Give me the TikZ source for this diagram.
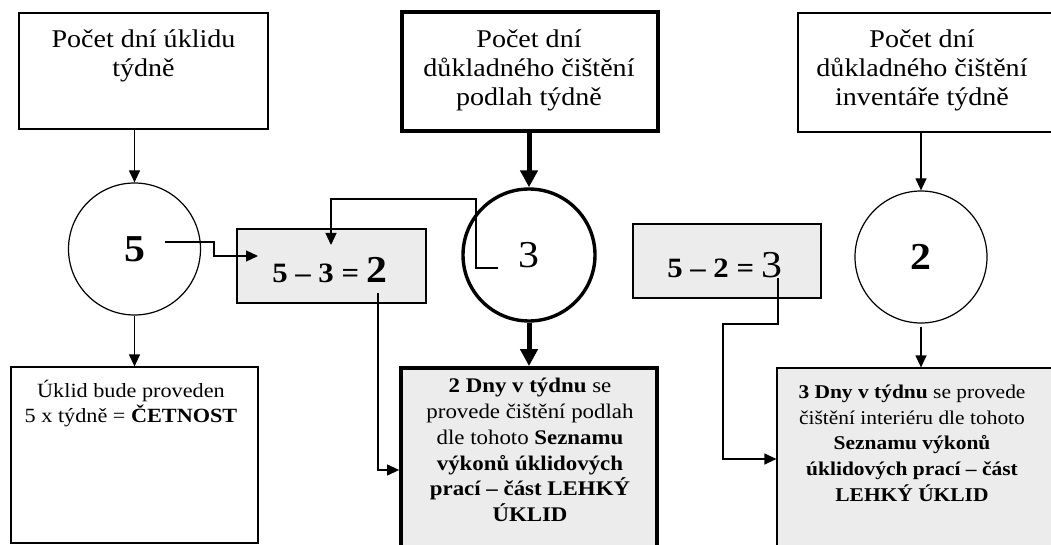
\documentclass[tikz,border=0pt]{standalone}
\usepackage{fontspec}
\setmainfont{Liberation Serif}[FakeStretch=1.1]
\usetikzlibrary{arrows.meta,calc}
\definecolor{fillg}{RGB}{236,236,236}
\begin{document}
\begin{tikzpicture}[x=1pt,y=-1pt,
  box/.style={draw,line width=1.2pt,inner sep=0pt},
  heavybox/.style={draw,line width=3.8pt,inner sep=0pt},
  ring/.style={draw,circle,line width=1.2pt,inner sep=0pt,minimum size=132pt,font=\fontsize{38}{40}\selectfont},
  heavyring/.style={ring,line width=3.4pt},
  toptext/.style={anchor=north,inner sep=0pt,align=center,font=\fontsize{25.5}{29}\selectfont},
  lowtext/.style={anchor=north,inner sep=0pt,align=center,font=\fontsize{19.5}{25.6}\selectfont},
  eqtext/.style={anchor=base,inner sep=0pt,font=\fontsize{28}{30}\selectfont\bfseries},
  arr/.style={line width=1.2pt,-{Triangle[length=12pt,width=11pt]}},
  heavyarr/.style={line width=5pt,-{Triangle[length=17pt,width=17pt]}},
  conn/.style={line width=1.2pt,-{Triangle[length=12pt,width=11pt]}}
]
\useasboundingbox (0,0) rectangle (1051,545);
% top boxes
\node[box,minimum width=249pt,minimum height=116pt] (b1) at (143.5,71) {};
\node[heavybox,minimum width=256pt,minimum height=119pt] (b2) at (530,71.5) {};
\node[box,minimum width=262pt,minimum height=119pt] (b3) at (929,72.5) {};
\node[toptext] (t1) at (143.5,30) {Počet dní úklidu\\týdně};
\node[toptext] (t2) at (529,30) {Počet dní\\důkladného čištění\\podlah týdně};
\node[toptext] (t3) at (922,30) {Počet dní\\důkladného čištění\\inventáře týdně};
% circles
\node[ring] (c5) at (134.5,249) {\bfseries 5};
\node[heavyring] (c3) at (529,255) {3};
\node[ring] (c2) at (921,257) {\bfseries 2};
% equation boxes
\node[box,fill=fillg,minimum width=189pt,minimum height=74pt] (e1) at (331.5,266) {};
\node[box,fill=fillg,minimum width=188pt,minimum height=74pt] (e2) at (727,261) {};
\node[eqtext] (q1) at (330,282) {5 – 3 = {\fontsize{38}{40}\selectfont 2}};
\node[eqtext] (q2) at (725,277) {5 – 2 = {\fontsize{38}{40}\selectfont\mdseries 3}};
% bottom boxes
\node[box,minimum width=247pt,minimum height=176pt] (bl) at (134.5,455) {};
\node[heavybox,fill=fillg,minimum width=256pt,minimum height=200pt] (bm) at (529,468) {};
\node[box,fill=fillg,minimum width=283pt,minimum height=200pt] (br) at (918.5,468) {};
\node[lowtext,font=\fontsize{20.2}{25}\selectfont] (tl) at (131,380) {Úklid bude proveden\\5 x týdně = \textbf{ČETNOST}};
\node[lowtext,font=\fontsize{20.8}{25.8}\selectfont] (tm) at (530,378) {\textbf{2 Dny v týdnu} se\\provede čištění podlah\\dle tohoto \textbf{Seznamu}\\\textbf{výkonů úklidových}\\\textbf{prací – část LEHKÝ}\\\textbf{ÚKLID}};
\node[lowtext] (tr) at (912,385) {\textbf{3 Dny v týdnu} se provede\\čištění interiéru dle tohoto\\\textbf{Seznamu výkonů}\\\textbf{úklidových prací – část}\\\textbf{LEHKÝ ÚKLID}};
% connector end points
\coordinate (s5) at (165,242);
\coordinate (s3) at (498,268);
\coordinate (sq1) at (378,293);
\coordinate (sq2) at (778,278);
% vertical arrows
\draw[arr] (c5.north |- b1.south) -- (c5.north);
\draw[arr] (c5.south) -- (c5.south |- bl.north);
\draw[heavyarr] (c3.north |- b2.south) -- (c3.north);
\draw[heavyarr] (c3.south) -- (c3.south |- bm.north);
\draw[arr] (c2.north |- b3.south) -- (c2.north);
\draw[arr,shorten <=3pt] (c2.south) -- (c2.south |- br.north);
% elbow connectors
\draw[conn] (s5) -- (214,242) -- (214,256) -- (258,256);
\draw[conn] (s3) -- (476,268) -- (476,199) -- (331,199) -- (331,245);
\draw[conn] (sq1) -- (378,470) -- (bm.west |- 0,470);
\draw[conn] (sq2) -- (778,324) -- (723,324) -- (723,459) -- (br.west |- 0,459);
\end{tikzpicture}
\end{document}
